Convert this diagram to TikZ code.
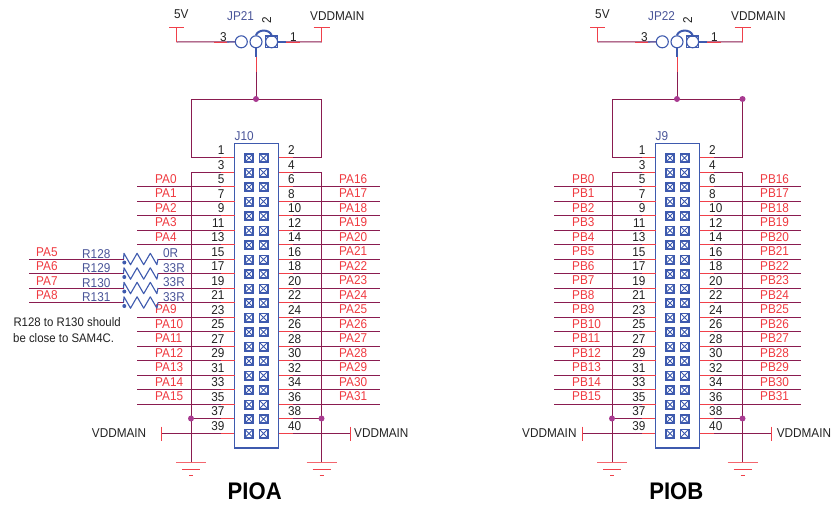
\documentclass[tikz,border=0pt]{standalone}
\usepackage{fontspec}
\setmainfont[FakeStretch=0.92]{Liberation Sans}
\definecolor{wirec}{HTML}{8A1C50}
\definecolor{stubc}{HTML}{F0404A}
\definecolor{pinc}{HTML}{3E5AAE}
\definecolor{dotc}{HTML}{A83A90}
\definecolor{netc}{HTML}{F03A40}
\definecolor{refc}{HTML}{4A5599}
\definecolor{txtc}{HTML}{222222}
\tikzset{
 wire/.style={draw=wirec,line width=1pt},
 stub/.style={draw=stubc,line width=1pt},
 pinline/.style={draw=pinc,line width=1.1pt},
 bar/.style={draw=stubc,line width=1pt},
 lab/.style={inner sep=0pt,anchor=base west,font=\fontsize{12.8}{13}\selectfont},
 labr/.style={inner sep=0pt,anchor=base east,font=\fontsize{12.8}{13}\selectfont,text=txtc},
 num/.style={lab,text=txtc},
 net/.style={lab,text=netc},
 ref/.style={lab,text=refc},
 val/.style={lab,text=txtc},
 junct/.style={circle,fill=dotc,inner sep=0pt,minimum size=6pt},
 pindot/.style={circle,fill=pinc,inner sep=0pt,minimum size=4pt},
 jpin/.style={circle,draw=pinc,line width=1.1pt,inner sep=0pt,minimum size=12pt},
 title/.style={inner sep=0pt,anchor=base,font=\fontsize{24}{26}\selectfont\bfseries,text=black},
 note/.style={inner sep=0pt,anchor=base west,font=\fontsize{12.4}{13}\selectfont,text=txtc},
}
\newcommand{\gndsym}[1]{%
 \draw[bar,draw=stubc!80] ([xshift=-15pt]#1) -- ([xshift=15pt]#1);
 \draw[bar] ([xshift=-9pt,yshift=-6.5pt]#1) -- ([xshift=9pt,yshift=-6.5pt]#1);
 \draw[bar] ([xshift=-2pt,yshift=-13pt]#1) -- ([xshift=2pt,yshift=-13pt]#1);
}
% #1 prefix, #2 dx, #3 port letter x, #4 port letter, #5 connector, #6 jumper
\newcommand{\headerblock}[6]{%
\begin{scope}[xshift=#2pt]
 % jumper
 \node[jpin] (#1-p3) at (241.3,41.8) {};
 \node[jpin] (#1-p2) at (256,41.8) {};
 \node[jpin] (#1-p1) at (271.6,41.8) {};
 \draw[pinc,line width=1.1pt] (265.8,36) rectangle (277.3,47.3);
 \draw[pinc,line width=2pt] (#1-p2.north) .. controls (258,29) and (269.5,29) .. (#1-p1.north);
 \coordinate (#1-j) at (256,99);
 \coordinate (#1-pw5) at (176.5,42);
 \coordinate (#1-pwV) at (321.5,42);
 % rows
 \foreach \r in {0,...,19}{%
  \pgfmathsetmacro{\yy}{157.5+14.5*\r}
  \coordinate (#1-L\r) at (234.5,\yy);
  \coordinate (#1-R\r) at (278.5,\yy);
 }
 \coordinate (#1-GL) at (191,462.5);
 \coordinate (#1-GR) at (321.5,462.5);
 % supply wires
 \draw[wire] (#1-p3.west) -- (#1-pw5);
 \draw[wire] (#1-p1.east) -- (#1-pwV);
 \draw[stub] (176.5,27) -- (#1-pw5);
 \draw[stub] (321.5,27) -- (#1-pwV);
 \draw[bar] (169,27) -- (184.3,27);
 \draw[bar] (313.5,27) -- (329.5,27);
 \draw[stub] (214,42) -- (227,42);
 \draw[pinline] (227,42) -- (#1-p3.west);
 \draw[pinline] (277.3,42) -- (286,42);
 \draw[stub] (286,42) -- (300,42);
 \draw[wire] (#1-p2.south) -- (#1-j);
 \draw[pinline] (#1-p2.south) -- (256,56.5);
 \draw[stub] (256,56.5) -- (256,71.5);
 % J1-J2 loop
 \draw[wire] (#1-L0) -- (191,157.5) -- (191,99) -- (321.5,99) -- (321.5,157.5) -- (#1-R0);
 % buses to ground
 \draw[wire] (#1-L1) -- (191,172) -- (#1-GL);
 \draw[wire] (#1-R1) -- (321.5,172) -- (#1-GR);
 \draw[wire] (#1-L18) -- (191,418.5);
 \draw[wire] (#1-R18) -- (321.5,418.5);
 \draw[wire] (#1-L19) -- (161.5,433);
 \draw[wire] (#1-R19) -- (350.5,433);
 \draw[bar] (161.5,426.5) -- (161.5,441);
 \draw[bar] (350.5,426.5) -- (350.5,441);
 \gndsym{#1-GL}
 \gndsym{#1-GR}
 \node[junct] (#1-dj) at (#1-j) {};
 \node[junct] (#1-d37) at (191,418.5) {};
 \node[junct] (#1-d38) at (321.5,418.5) {};
 % right signals
 \foreach \r [evaluate=\r as \n using int(\r+14)] in {2,...,17}{%
  \draw[wire] (#1-R\r) -- (380,157.5+14.5*\r);
  \node[net] (#1-rn\r) at (#3,154.4+14.5*\r) {P#4\n};
 }
 % stubs, numbers, pins
 \foreach \r [evaluate=\r as \a using int(2*\r+1),evaluate=\r as \b using int(2*\r+2)] in {0,...,19}{%
  \pgfmathsetmacro{\yy}{158+14.5*\r}
  \coordinate (#1-tmp) at (0,0);
  \draw[stub] (#1-L\r) -- ++(-14,0);
  \draw[stub] (#1-R\r) -- ++(14,0);
  \node[labr] (#1-na\r) at (224.6,\yy-3.3) {\a};
  \node[num] (#1-nb\r) at (288,\yy-3.3) {\b};
  \foreach \cx in {249,263.5}{%
   \draw[pinc,line width=1.6pt] (\cx-4.2,\yy-4.2) rectangle (\cx+4.2,\yy+4.2);
   \draw[pinc,line width=.8pt] (\cx-4,\yy-4) -- (\cx+4,\yy+4) (\cx-4,\yy+4) -- (\cx+4,\yy-4);
  }
 }
 \node[draw=pinc,line width=1.1pt,minimum width=44pt,minimum height=304.5pt,inner sep=0pt] (#1-box) at (256.5,295.75) {};
 \node[ref] (#1-J) at (234.5,140) {#5};
 \node[ref] (#1-JP) at (227,20.7) {#6};
 \node[num] (#1-t3) at (220,41) {3};
 \node[num] (#1-t1) at (290,41) {1};
 \node[inner sep=0pt,rotate=90,font=\fontsize{12.8}{13}\selectfont,text=txtc] (#1-t2) at (266.7,20) {2};
 \node[val] (#1-5V) at (174,18) {5V};
 \node[val] (#1-VT) at (310,20.7) {VDDMAIN};
\end{scope}
}
\begin{document}
\begin{tikzpicture}[x=1pt,y=-1pt]
\useasboundingbox (0,0) rectangle (831,504);
\fill[white] (0,0) rectangle (831,504);
\headerblock{A}{0}{339}{A}{J10}{JP21}
\headerblock{B}{421}{339}{B}{J9}{JP22}
\node[junct] (B-dx) at (742.5,99) {};
% PIOA left signals
\foreach \r [evaluate=\r as \n using int(\r-2)] in {2,...,6,11,12,...,17}{%
 \coordinate (A-S\r) at (137,157.5+14.5*\r);
 \draw[wire] (A-S\r) -- (A-L\r);
 \draw[stub] (A-L\r) -- ++(-14,0);
 \node[net] (A-ln\r) at (155,154.4+14.5*\r) {PA\n};
}
% PIOB left signals
\foreach \r [evaluate=\r as \n using int(\r-2)] in {2,...,17}{%
 \coordinate (B-S\r) at (554,157.5+14.5*\r);
 \draw[wire] (B-S\r) -- (B-L\r);
 \draw[stub] (B-L\r) -- ++(-14,0);
 \node[net] (B-ln\r) at (572,154.4+14.5*\r) {PB\n};
}
% series resistors
\foreach \r/\sig/\rname/\rval in {7/PA5/R128/0R,8/PA6/R129/33R,9/PA7/R130/33R,10/PA8/R131/33R}{%
 \pgfmathsetmacro{\yy}{157.5+14.5*\r}
 \coordinate (W\r) at (29,\yy);
 \coordinate (Ra\r) at (123.5,\yy);
 \coordinate (Rb\r) at (158,\yy);
 \draw[wire] (W\r) -- (Ra\r);
 \draw[wire] (Rb\r) -- (A-L\r);
 \draw[stub] (A-L\r) -- ++(-14,0);
 \draw[pinc,line width=1.1pt,line join=round] (Ra\r) -- ++(0.5,-5.7) -- ++(6.5,11.4) -- ++(6.6,-11.4) -- ++(6.6,11.4) -- ++(6.6,-11.4) -- ++(6.6,11.4) -- (Rb\r);
 \node[pindot] (Rd\r) at (124.3,\yy+3.5) {};
 \node[net] (Sg\r) at (36,\yy-2.9) {\sig};
 \node[ref] (Rn\r) at (82,\yy-0.9) {\rname};
 \node[ref] (Rv\r) at (163,\yy-1.1) {\rval};
}
\node[note] (n1) at (13.3,326) {R128 to R130 should};
\node[note] (n2) at (13,342) {be close to SAM4C.};
\node[val] (A-VL) at (91.7,437.7) {VDDMAIN};
\node[val] (A-VR) at (354,437.7) {VDDMAIN};
\node[val] (B-VL) at (522,437.7) {VDDMAIN};
\node[val] (B-VR) at (776.6,437.7) {VDDMAIN};
\node[title] (A-title) at (254.7,499) {PIOA};
\node[title] (B-title) at (676.3,499) {PIOB};
\end{tikzpicture}
\end{document}
